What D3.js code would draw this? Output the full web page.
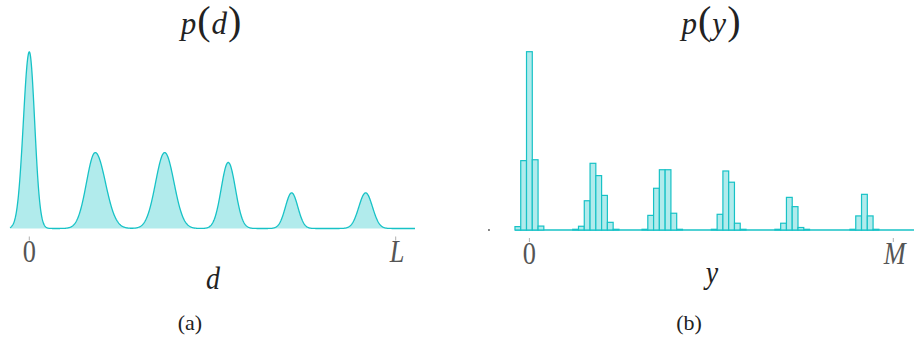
<!DOCTYPE html>
<html>
<head>
<meta charset="utf-8">
<script src="https://cdn.jsdelivr.net/npm/d3@7"></script>
<style>
  html, body { margin: 0; padding: 0; background: #fff; }
  svg { display: block; }
</style>
</head>
<body>
<svg id="chart" width="914" height="341"></svg>
<script>
// (a) continuous density p(d): one bump per peak, positions in units of L
const dPeakCenters = [0, 0.18, 0.3695, 0.543, 0.716, 0.918];
const dPeakHeights = [1, 0.43, 0.43, 0.374, 0.202, 0.202];
const dPeakSigmaLeft = [0.0162, 0.0239, 0.0248, 0.0192, 0.0169, 0.0186];
const dPeakSigmaRight = [0.0146, 0.0278, 0.0255, 0.0195, 0.0169, 0.0186];
const dExtent = [-0.0527, 1.0527];
const dTicks = [0, 1];
const dTickLabels = ["0", "L"];

// (b) discrete distribution p(y): bin value -> probability (relative to the tallest bin)
const yBins = [-2, -1, 0, 1, 2,
  8, 9, 10, 11, 12, 13, 14, 15,
  20, 21, 22, 23, 24, 25, 26,
  32, 33, 34, 35, 36, 37,
  43, 44, 45, 46, 47, 48,
  56, 57, 58, 59, 60];
const yProbs = [0.019, 0.389, 1.0, 0.394, 0.022,
  0.004, 0.021, 0.164, 0.374, 0.305, 0.194, 0.043, 0.004,
  0.004, 0.082, 0.234, 0.338, 0.338, 0.094, 0.004,
  0.004, 0.088, 0.331, 0.268, 0.038, 0.004,
  0.004, 0.038, 0.183, 0.131, 0.014, 0.004,
  0.004, 0.079, 0.2, 0.079, 0.004];
const M = 63;
const yExtent = [-2.5, 66.7];
const yTicks = [0, M];
const yTickLabels = ["0", "M"];

const stroke = "#17c2c6";
const fill = "#b1ebec";
const serif = "Liberation Serif";

const svg = d3.select("#chart");

// ---------- panel (a) ----------
const xa = d3.scaleLinear().domain([0, 1]).range([29.3, 395.7]);
const ya = d3.scaleLinear().domain([0, 1]).range([228.5, 51.9]);

function density(d) {
  let s = 0;
  for (let i = 0; i < dPeakCenters.length; i++) {
    const dx = d - dPeakCenters[i];
    const sg = dx < 0 ? dPeakSigmaLeft[i] : dPeakSigmaRight[i];
    s += dPeakHeights[i] * Math.exp(-0.5 * (dx / sg) * (dx / sg));
  }
  return s;
}
const samples = d3.range(0, 1201).map(i => {
  const d = dExtent[0] + (dExtent[1] - dExtent[0]) * i / 1200;
  return [d, density(d)];
});

const ga = svg.append("g");
ga.append("path")
  .datum(samples)
  .attr("fill", fill)
  .attr("d", d3.area().x(p => xa(p[0])).y0(ya(0)).y1(p => ya(p[1])));
ga.append("path")
  .datum(samples)
  .attr("fill", "none")
  .attr("stroke", stroke)
  .attr("stroke-width", 1.3)
  .attr("d", d3.line().x(p => xa(p[0])).y(p => ya(p[1])));

// ---------- panel (b) ----------
const xb = d3.scaleLinear().domain([0, M]).range([529.4, 893.3]);
const yb = d3.scaleLinear().domain([0, 1]).range([230, 51.7]);

const gb = svg.append("g");
gb.append("line")
  .attr("x1", xb(yExtent[0])).attr("x2", xb(yExtent[1]))
  .attr("y1", yb(0)).attr("y2", yb(0))
  .attr("stroke", stroke).attr("stroke-width", 1.3);
gb.selectAll("rect.bin")
  .data(yBins.map((v, i) => ({ v, p: yProbs[i] })))
  .join("rect")
  .attr("class", "bin")
  .attr("x", d => xb(d.v - 0.5))
  .attr("width", d => xb(d.v + 0.5) - xb(d.v - 0.5))
  .attr("y", d => yb(d.p))
  .attr("height", d => yb(0) - yb(d.p))
  .attr("fill", fill)
  .attr("stroke", stroke)
  .attr("stroke-width", 1.2);

// small origin marker left of the histogram
svg.append("rect")
  .attr("x", xb(-7) - 0.8).attr("y", yb(0) - 0.8)
  .attr("width", 1.6).attr("height", 1.6)
  .attr("fill", "#444");

// ---------- axes: ticks and labels ----------
function ticksAndLabels(scale, values, labels, baseY, labelY, italicIdx) {
  const g = svg.append("g");
  values.forEach((v, i) => {
    const x = scale(v);
    g.append("line")
      .attr("x1", x).attr("x2", x)
      .attr("y1", baseY + 8).attr("y2", baseY + 12)
      .attr("stroke", "#9a9a9a").attr("stroke-width", 0.8);
    g.append("text")
      .attr("transform", `translate(${x + (i === italicIdx ? 1.5 : 0)},${labelY}) scale(0.85,1)`)
      .attr("text-anchor", "middle")
      .attr("font-family", serif)
      .attr("font-size", 31)
      .attr("font-style", i === italicIdx ? "italic" : "normal")
      .attr("fill", "#555")
      .text(labels[i]);
  });
}
ticksAndLabels(xa, dTicks, dTickLabels, 228.5, 261.5, 1);
ticksAndLabels(xb, yTicks, yTickLabels, 230, 263.5, 1);

// axis variable names
function varLabel(x, y, t) {
  svg.append("text")
    .attr("transform", `translate(${x},${y}) scale(0.9,1)`)
    .attr("text-anchor", "middle")
    .attr("font-family", serif)
    .attr("font-size", 31)
    .attr("font-style", "italic")
    .attr("fill", "#222")
    .text(t);
}
varLabel(213, 289, "d");
varLabel(712, 283, "y");

// panel captions
function caption(x, t) {
  svg.append("text")
    .attr("x", x).attr("y", 330)
    .attr("text-anchor", "middle")
    .attr("font-family", serif)
    .attr("font-size", 22)
    .attr("fill", "#222")
    .text(t);
}
caption(190, "(a)");
caption(689, "(b)");

// panel titles p(d), p(y): italic letters with taller delimiters, laid out piece by piece
function title(cx, v) {
  const parts = [
    { t: "p", size: 31, italic: true, gap: 1 },
    { t: "(", size: 40, italic: false, gap: 1 },
    { t: v, size: 31, italic: true, gap: 1 },
    { t: ")", size: 40, italic: false, gap: 0 }
  ];
  const g = svg.append("g");
  const nodes = parts.map(p => g.append("text")
    .attr("y", 34)
    .attr("font-family", serif)
    .attr("font-size", p.size)
    .attr("font-style", p.italic ? "italic" : "normal")
    .attr("fill", "#222")
    .text(p.t));
  const widths = nodes.map(n => n.node().getComputedTextLength());
  const total = d3.sum(widths) + d3.sum(parts, p => p.gap);
  let x = cx - total / 2;
  nodes.forEach((n, i) => {
    n.attr("x", x);
    x += widths[i] + parts[i].gap;
  });
}
title(211, "d");
title(711, "y");
</script>
</body>
</html>
